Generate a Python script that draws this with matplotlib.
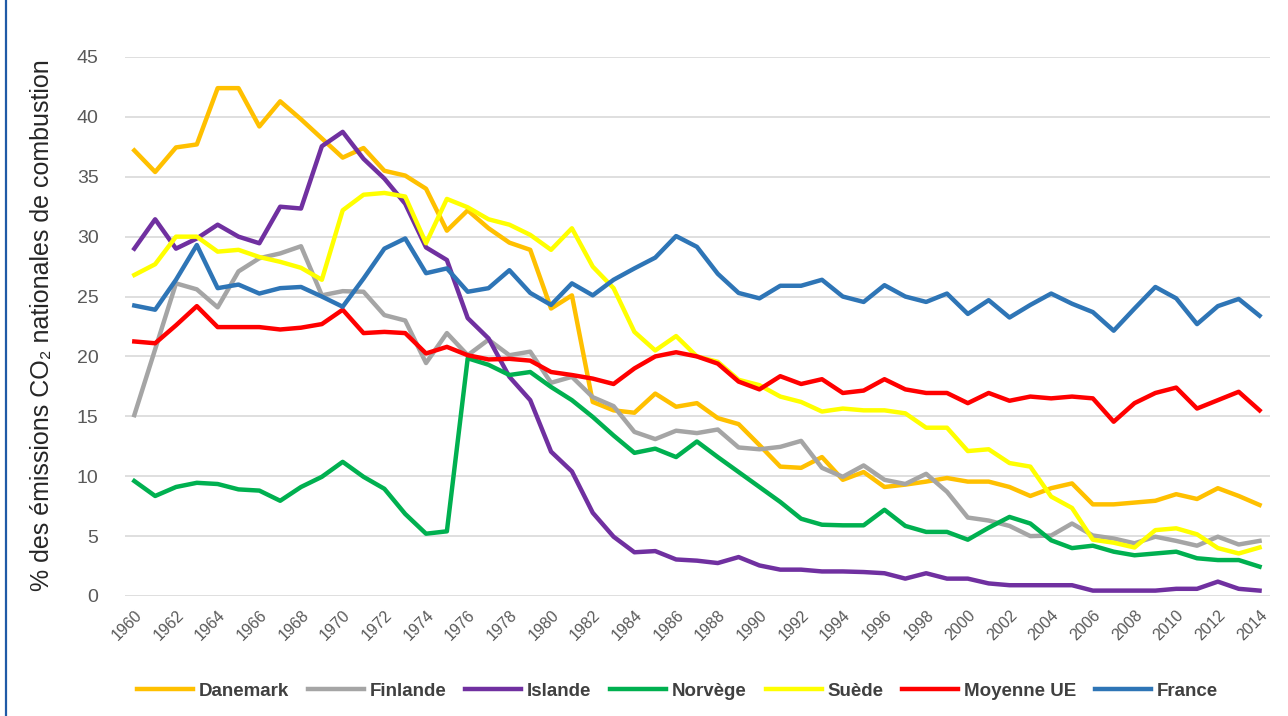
import matplotlib
matplotlib.use("Agg")
import matplotlib.pyplot as plt
from matplotlib.lines import Line2D

plt.rcParams['font.family'] = ['Liberation Sans', 'DejaVu Sans']

years = list(range(1960, 2015))

# valeurs (% des emissions nationales de CO2 de combustion)
danemark = [37.2, 35.4, 37.45, 37.7, 42.4, 42.4, 39.2, 41.3, 39.8, 38.2,
            36.6, 37.4, 35.5, 35.1, 34.0, 30.5, 32.2, 30.7, 29.5, 28.9,
            24.0, 25.1, 16.2, 15.5, 15.3, 16.9, 15.8, 16.1, 14.85, 14.35,
            12.6, 10.8, 10.7, 11.6, 9.7, 10.35, 9.1, 9.3, 9.55, 9.85,
            9.55, 9.55, 9.1, 8.35, 9.0, 9.4, 7.65, 7.65, 7.8, 7.95,
            8.5, 8.1, 9.0, 8.35, 7.6]
finlande = [15.1, 20.6, 26.1, 25.6, 24.1, 27.1, 28.2, 28.6, 29.2, 25.1,
            25.45, 25.4, 23.45, 23.0, 19.45, 21.95, 20.1, 21.4, 20.1, 20.4,
            17.8, 18.3, 16.6, 15.85, 13.7, 13.1, 13.8, 13.6, 13.9, 12.4,
            12.25, 12.45, 12.95, 10.7, 9.95, 10.9, 9.7, 9.35, 10.2, 8.7,
            6.55, 6.3, 5.85, 5.0, 5.05, 6.05, 5.05, 4.8, 4.4, 4.95,
            4.6, 4.2, 4.95, 4.3, 4.6]
islande = [29.0, 31.45, 29.0, 29.85, 31.0, 30.0, 29.45, 32.5, 32.35, 37.55,
           38.75, 36.5, 34.85, 32.75, 29.1, 28.05, 23.2, 21.5, 18.3, 16.35,
           12.05, 10.4, 6.95, 4.95, 3.65, 3.75, 3.05, 2.95, 2.75, 3.25,
           2.55, 2.2, 2.2, 2.05, 2.05, 2.0, 1.9, 1.45, 1.9, 1.45,
           1.45, 1.05, 0.9, 0.9, 0.9, 0.9, 0.45, 0.45, 0.45, 0.45,
           0.6, 0.6, 1.2, 0.6, 0.45]
norvege = [9.6, 8.35, 9.1, 9.45, 9.35, 8.9, 8.8, 7.95, 9.1, 9.95,
           11.2, 9.95, 8.95, 6.85, 5.2, 5.4, 19.85, 19.3, 18.45, 18.7,
           17.45, 16.35, 14.95, 13.4, 11.95, 12.3, 11.6, 12.9, 11.6, 10.35,
           9.1, 7.85, 6.45, 5.95, 5.9, 5.9, 7.2, 5.85, 5.35, 5.35,
           4.7, 5.7, 6.6, 6.05, 4.65, 4.0, 4.2, 3.7, 3.4, 3.55,
           3.7, 3.15, 3.0, 3.0, 2.45]
suede = [26.8, 27.7, 30.0, 30.0, 28.75, 28.9, 28.3, 27.9, 27.4, 26.4,
         32.2, 33.5, 33.65, 33.35, 29.45, 33.15, 32.45, 31.45, 31.0, 30.15,
         28.9, 30.7, 27.5, 25.7, 22.05, 20.5, 21.7, 20.0, 19.55, 18.05,
         17.6, 16.65, 16.2, 15.4, 15.65, 15.5, 15.5, 15.25, 14.05, 14.05,
         12.1, 12.25, 11.1, 10.8, 8.3, 7.35, 4.7, 4.45, 4.05, 5.5,
         5.65, 5.15, 4.0, 3.55, 4.05]
moyenne_ue = [21.25, 21.1, 22.6, 24.2, 22.45, 22.45, 22.45, 22.25, 22.4, 22.7,
              23.9, 21.95, 22.05, 21.95, 20.25, 20.8, 20.1, 19.75, 19.8, 19.65,
              18.7, 18.45, 18.15, 17.7, 19.0, 20.0, 20.35, 20.0, 19.4, 17.9,
              17.25, 18.35, 17.7, 18.1, 16.95, 17.15, 18.1, 17.25, 16.95, 16.95,
              16.1, 16.95, 16.3, 16.65, 16.5, 16.65, 16.5, 14.55, 16.1, 16.95,
              17.4, 15.65, 16.35, 17.05, 15.5]
france = [24.25, 23.9, 26.4, 29.3, 25.7, 26.0, 25.25, 25.7, 25.8, 25.0,
          24.15, 26.5, 29.0, 29.85, 26.95, 27.35, 25.4, 25.7, 27.2, 25.3,
          24.3, 26.1, 25.1, 26.4, 27.35, 28.25, 30.05, 29.15, 26.9, 25.3,
          24.85, 25.9, 25.9, 26.4, 25.0, 24.55, 25.95, 25.0, 24.55, 25.25,
          23.55, 24.7, 23.25, 24.3, 25.25, 24.4, 23.7, 22.15, 24.0, 25.8,
          24.85, 22.7, 24.2, 24.8, 23.4]

labels = ['Danemark', 'Finlande', 'Islande', 'Norvège', 'Suède', 'Moyenne UE', 'France']
series = [danemark, finlande, islande, norvege, suede, moyenne_ue, france]
colors = ['#FFC000', '#A5A5A5', '#7030A0', '#00B050', '#FFFF00', '#FF0000', '#2E75B6']

fig = plt.figure(figsize=(12.88, 7.16), dpi=100)
ax = fig.add_axes([0.097, 0.1676, 0.889, 0.7528])

for lab, vals, c in zip(labels, series, colors):
    ax.plot(years, vals, color=c, lw=3.2, label=lab)

ax.set_xlim(1959.55, 2014.5)
ax.set_ylim(0, 45)
ax.set_yticks(range(0, 50, 5))
ax.set_xticks(range(1960, 2015, 2))
ax.grid(axis='y', color='#D9D9D9', lw=1.2)
ax.set_axisbelow(True)
for s in ax.spines.values():
    s.set_visible(False)
ax.tick_params(axis='both', length=0, colors='#595959')
ax.tick_params(axis='y', labelsize=14, pad=19)
ax.tick_params(axis='x', labelsize=11.5, pad=8)
plt.setp(ax.get_xticklabels(), rotation=45, ha='right', rotation_mode='anchor')

fig.text(0.0326, 0.546, '% des émissions CO₂ nationales de combustion',
         rotation=90, ha='center', va='center', fontsize=18, color='#262626')

fig.legend(loc='center', bbox_to_anchor=(0.526, 0.035), ncol=7, frameon=False,
           prop={'size': 13.5, 'weight': 'bold'}, labelcolor='#404040',
           handlelength=3.0, handletextpad=0.3, columnspacing=1.0)

# bordure bleue a gauche
fig.add_artist(Line2D([0.0047, 0.0047], [0, 1], transform=fig.transFigure,
                      color='#1F5AA6', lw=1.6))

fig.savefig('out.png', dpi=100)
